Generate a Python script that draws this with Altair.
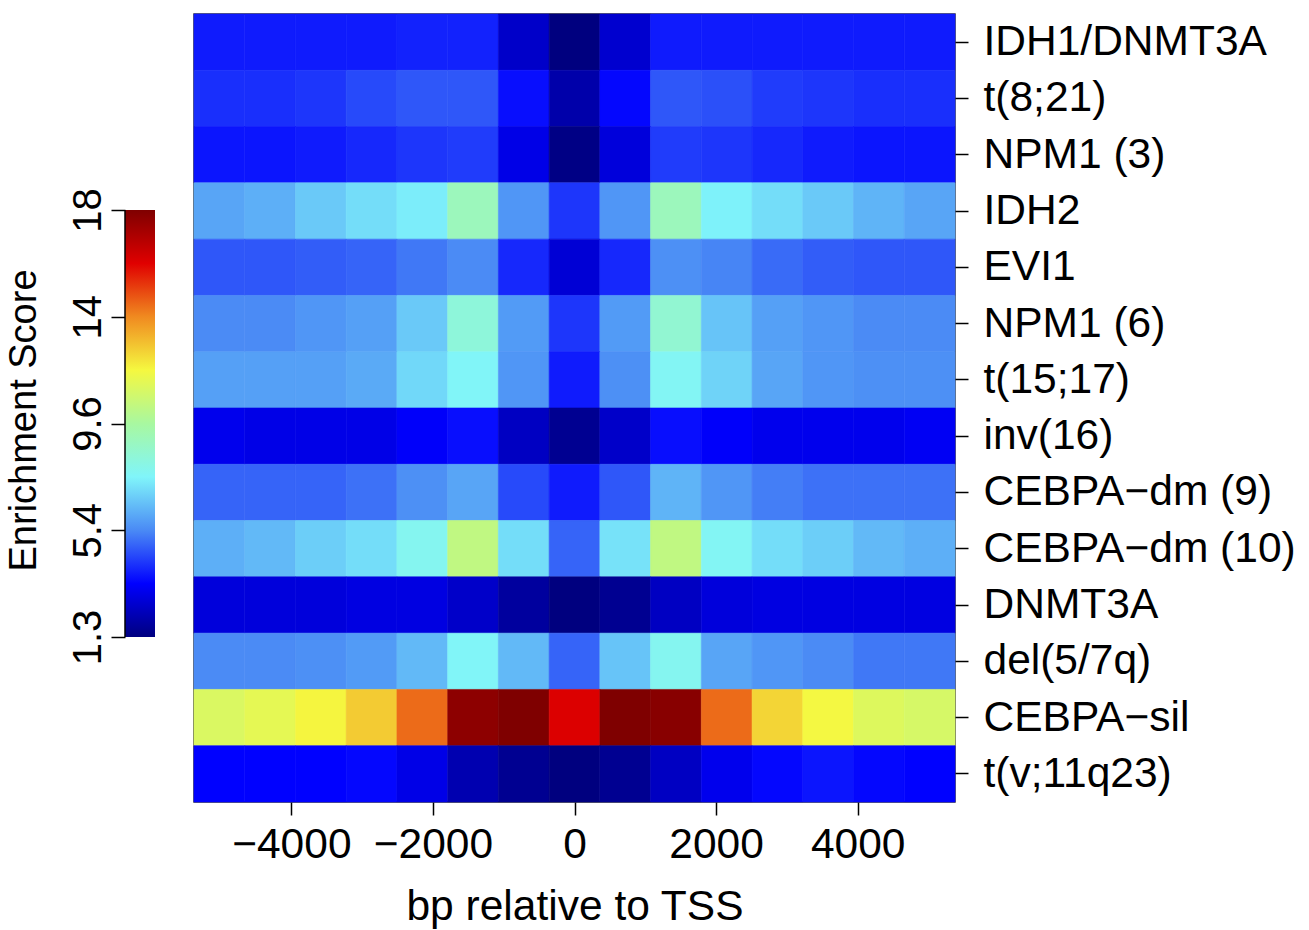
import altair as alt
import pandas as pd

# ---- data ----
categories = ["IDH1/DNMT3A", "t(8;21)", "NPM1 (3)", "IDH2", "EVI1", "NPM1 (6)",
              "t(15;17)", "inv(16)", "CEBPA−dm (9)", "CEBPA−dm (10)", "DNMT3A",
              "del(5/7q)", "CEBPA−sil", "t(v;11q23)"]

# bin centres (bp relative to TSS) and half bin width
x_centers = [-5017, -4300, -3583, -2867, -2150, -1433, -717, 0,
             717, 1433, 2150, 2867, 3583, 4300, 5017]
half_bin = 358.33

row_idh1_dnmt3a = [3.8, 3.8, 3.8, 3.8, 3.9, 3.9, 2.5, 1.3, 2.6, 3.8, 3.8, 3.8, 3.8, 3.8, 3.8]
row_t8_21 = [4.1, 4.1, 4.2, 4.5, 4.7, 4.7, 3.6, 2.0, 3.5, 4.7, 4.6, 4.3, 4.2, 4.1, 4.1]
row_npm1_3 = [3.7, 3.7, 3.8, 4.0, 4.2, 4.3, 3.0, 1.4, 2.8, 4.3, 4.2, 4.0, 3.8, 3.7, 3.7]
row_idh2 = [6.0, 6.2, 6.7, 7.1, 7.4, 9.0, 5.7, 4.2, 5.7, 9.0, 7.5, 7.1, 6.7, 6.3, 6.0]
row_evi1 = [4.7, 4.7, 4.8, 4.9, 5.2, 5.5, 4.0, 2.7, 4.0, 5.6, 5.4, 5.0, 4.8, 4.7, 4.7]
row_npm1_6 = [5.5, 5.5, 5.7, 5.9, 6.7, 8.3, 5.8, 4.2, 5.8, 8.5, 6.6, 5.9, 5.7, 5.5, 5.5]
row_t15_17 = [5.9, 5.9, 5.9, 6.1, 7.0, 7.6, 5.7, 3.8, 5.6, 7.7, 6.9, 6.0, 5.7, 5.6, 5.6]
row_inv16 = [3.1, 3.0, 3.0, 3.0, 3.3, 3.6, 2.4, 1.6, 2.5, 3.6, 3.3, 3.1, 3.1, 3.1, 3.2]
row_cebpa_dm9 = [4.9, 4.9, 4.9, 5.1, 5.6, 6.0, 4.5, 3.8, 4.7, 6.3, 5.7, 5.3, 5.1, 5.1, 5.1]
row_cebpa_dm10 = [6.2, 6.4, 6.8, 7.1, 7.8, 10.3, 7.1, 4.9, 7.2, 10.3, 7.7, 7.1, 6.8, 6.4, 6.2]
row_dnmt3a = [2.8, 2.8, 2.8, 2.9, 2.9, 2.5, 1.8, 1.3, 1.6, 2.4, 2.8, 2.9, 2.9, 2.9, 2.9]
row_del57q = [5.5, 5.5, 5.6, 5.8, 6.4, 7.6, 6.4, 4.9, 6.6, 7.8, 6.0, 5.7, 5.5, 5.2, 5.2]
row_cebpa_sil = [11.0, 11.3, 11.8, 12.6, 14.3, 17.7, 18.0, 16.0, 18.0, 17.8, 14.3, 12.4, 11.7, 11.1, 10.9]
row_t_v_11q23 = [3.4, 3.4, 3.4, 3.5, 3.0, 2.1, 1.6, 1.3, 1.6, 2.4, 3.1, 3.5, 3.7, 3.5, 3.4]

rows = [row_idh1_dnmt3a, row_t8_21, row_npm1_3, row_idh2, row_evi1, row_npm1_6,
        row_t15_17, row_inv16, row_cebpa_dm9, row_cebpa_dm10, row_dnmt3a,
        row_del57q, row_cebpa_sil, row_t_v_11q23]

x_ticks = [-4000, -2000, 0, 2000, 4000]
x_domain = [-5375, 5375]

# colour bar: jet-like palette over 1.3 .. 18 (as seen in the reference bar)
jet_domain = [1.3, 3.3875, 5.475, 7.5625, 9.65, 11.7375, 13.825, 15.9125, 18]
jet_colors = ["#00007F", "#0000FF", "#4A8AF5", "#80F5FA", "#A8F8A0",
              "#F5F840", "#F08A20", "#E00000", "#7F0000"]
cbar_ticks = [1.3, 5.475, 9.65, 13.825, 18]
cbar_labels = ["1.3", "5.4", "9.6", "14", "18"]

# ---- tables ----
records = []
for cat, vals in zip(categories, rows):
    for xc, v in zip(x_centers, vals):
        records.append({"group": cat, "x0": xc - half_bin, "x1": xc + half_bin, "score": v})
df = pd.DataFrame(records)

cbar_df = pd.DataFrame({"lo": [jet_domain[0]], "hi": [jet_domain[-1]]})

FONT = "Liberation Sans"

color_scale = alt.Scale(domain=jet_domain, range=jet_colors, interpolate="rgb", clamp=True)

heat = alt.Chart(df).mark_rect(strokeWidth=0.6).encode(
    x=alt.X("x0:Q",
            scale=alt.Scale(domain=x_domain, nice=False, zero=False),
            axis=alt.Axis(values=x_ticks, title="bp relative to TSS", grid=False,
                          domain=False, tickSize=13, tickWidth=1.5, tickColor="black",
                          labelPadding=8, labelFontSize=42.5, labelColor="black",
                          labelFlush=False, titleFontSize=42.5, titleFontWeight="normal",
                          titleColor="black", titlePadding=20, format="d")),
    x2="x1:Q",
    y=alt.Y("group:N", sort=categories,
            scale=alt.Scale(paddingInner=0, paddingOuter=0),
            axis=alt.Axis(orient="right", title=None, domain=False, tickSize=13,
                          tickWidth=1.5, tickColor="black", labelPadding=15,
                          labelFontSize=42.5, labelColor="black", labelLimit=400)),
    color=alt.Color("score:Q", scale=color_scale, legend=None),
    stroke=alt.Stroke("score:Q", scale=color_scale, legend=None),
)

label_expr = " : ".join(
    f"abs(datum.value - {t}) < 0.01 ? '{l}'" for t, l in zip(cbar_ticks, cbar_labels)
) + " : ''"

cbar_y = alt.Y("lo:Q",
               scale=alt.Scale(domain=[-5.153, 25.666], nice=False, zero=False),
               axis=alt.Axis(orient="left", offset=69, values=cbar_ticks,
                             labelExpr=label_expr, domain=False, grid=False,
                             tickSize=14, tickWidth=1.5, tickColor="black",
                             labelAngle=270, labelAlign="center", labelBaseline="bottom",
                             labelPadding=3, labelFontSize=40, labelColor="black",
                             title="Enrichment Score", titleAngle=270,
                             titleY=406, titleAlign="center",
                             titleFontSize=38, titleFontWeight="normal",
                             titleColor="black", titlePadding=25))

gradient = alt.Gradient(
    gradient="linear",
    stops=[alt.GradientStop(offset=(d - jet_domain[0]) / (jet_domain[-1] - jet_domain[0]), color=c)
           for d, c in zip(jet_domain, jet_colors)],
    x1=0, x2=0, y1=1, y2=0,
)

bar = alt.Chart(cbar_df).mark_rect(fill=gradient).encode(
    x=alt.value(-69), x2=alt.value(-39), y=cbar_y, y2="hi:Q"
)
edge = alt.Chart(cbar_df).mark_rule(color="black", strokeWidth=1.5).encode(
    x=alt.value(-69), y=cbar_y, y2="hi:Q"
)

chart = alt.layer(heat, alt.layer(bar, edge)).resolve_scale(y="independent").properties(
    width=761, height=788,
    autosize=alt.AutoSizeParams(type="none"),
    padding={"left": 194, "top": 14, "right": 354, "bottom": 128},
).configure(font=FONT).configure_view(stroke="#333333", strokeWidth=1.5)

chart.save("out.html", embed_options={"renderer": "svg", "actions": False})
